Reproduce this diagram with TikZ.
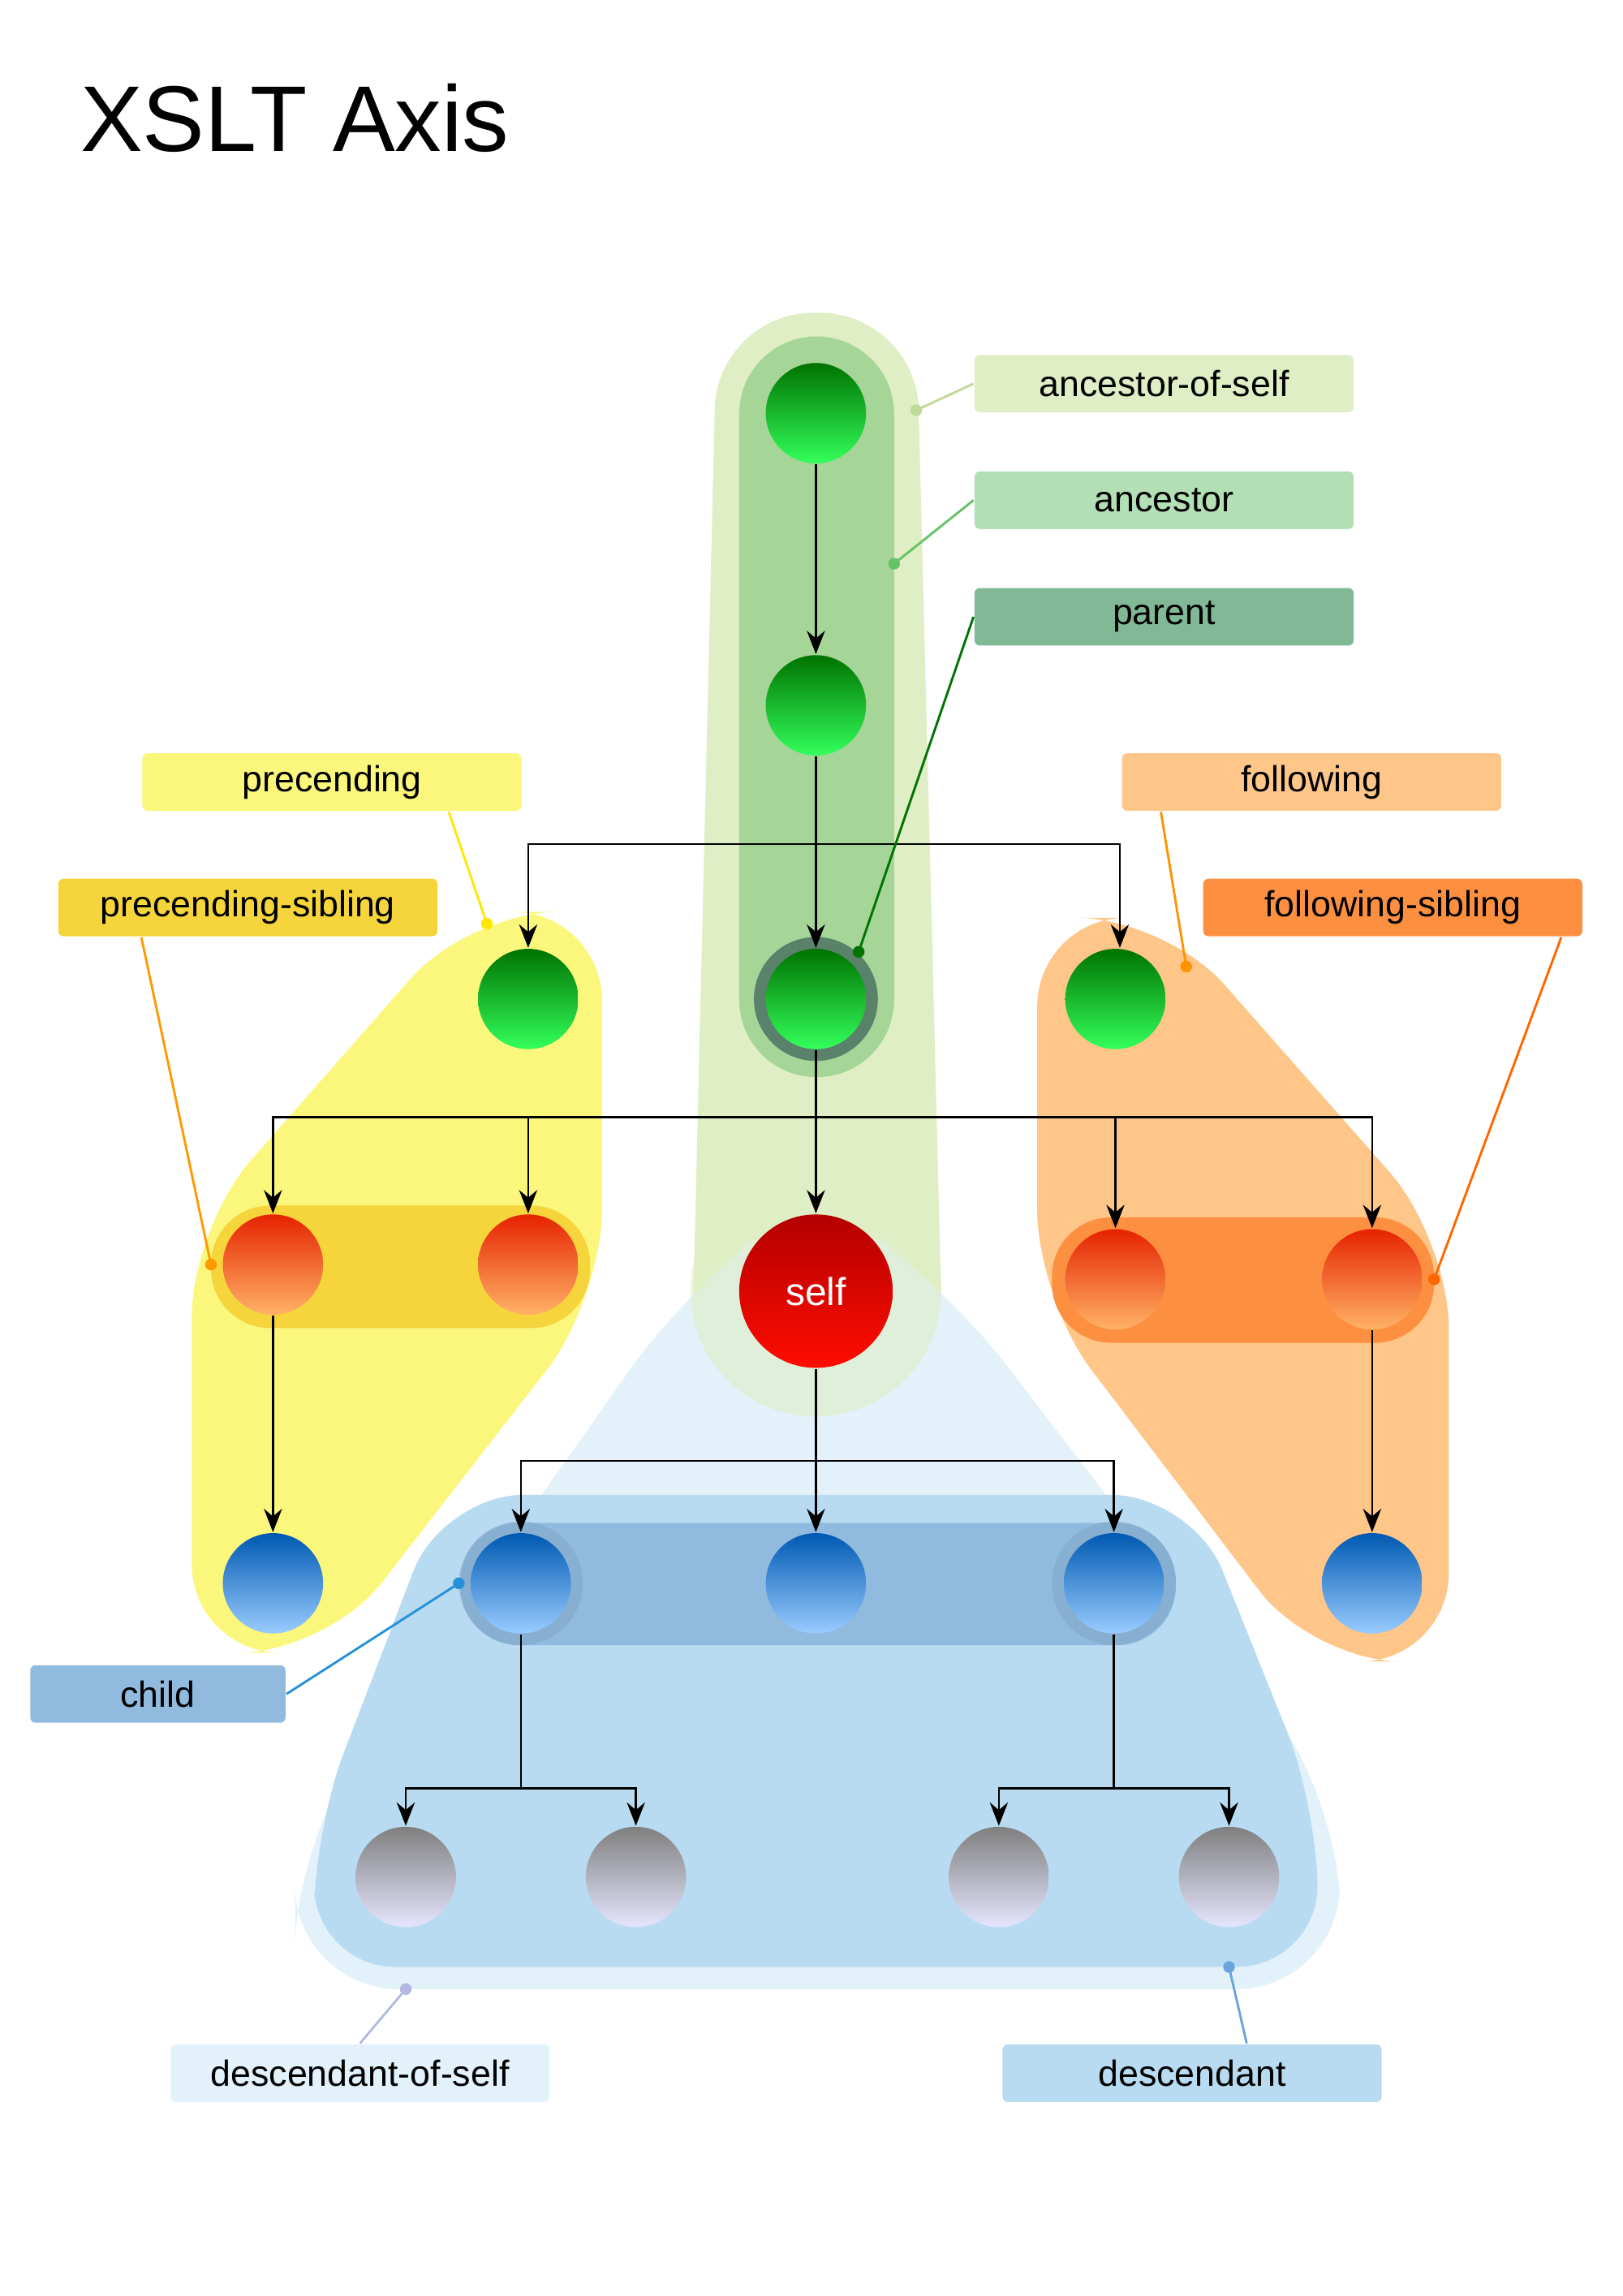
\documentclass[tikz,border=0pt]{standalone}
\usepackage{fontspec}
\setmainfont{Liberation Sans}
\usetikzlibrary{positioning, arrows.meta, calc}

\definecolor{aosc}{HTML}{DFEEC4}
\definecolor{ancc}{HTML}{A5D597}
\definecolor{ancl}{HTML}{B3DFB5}
\definecolor{parc}{HTML}{81B997}
\definecolor{prec}{HTML}{FBF77C}
\definecolor{psib}{HTML}{F5D53B}
\definecolor{folc}{HTML}{FEC688}
\definecolor{fsib}{HTML}{FD9040}
\definecolor{chic}{HTML}{90BBDF}
\definecolor{dosc}{HTML}{E3F1FA}
\definecolor{desc}{HTML}{B8DBF1}

\begin{document}
\begin{tikzpicture}[
    x=0.02cm, y=-0.02cm,
    line width=0.8pt,
    ball/.style={circle, minimum size=1.36cm, inner sep=0pt},
    green/.style={ball, shading=axis, top color=green!45!black, bottom color=green!80!cyan!80!white},
    orng/.style={ball, shading=axis, top color=red!70!orange!90!black, bottom color=orange!60!white},
    blue/.style={ball, shading=axis, top color=blue!50!cyan!70!black, bottom color=cyan!50!blue!40!white},
    gray/.style={ball, shading=axis, top color=black!50, bottom color=blue!10!white},
    tag/.style={rounded corners=2pt, minimum width=5.14cm, minimum height=0.78cm, font=\fontsize{14}{16}\selectfont},
    edge/.style={-{Stealth[length=9pt, width=7pt]}},
    lead/.style={line width=0.9pt},
    dot/.style={circle, fill, inner sep=1.6pt}
]
    \useasboundingbox (0,0) rectangle (1100,1556);

    \node[anchor=west, font=\fontsize{36}{40}\selectfont] (title) at (48,80) {XSLT Axis};

    % regions
    \fill[aosc, rounded corners=13mm] (486,212) -- (621,212) [rounded corners=16mm] -- (640,960) -- (468,960) [rounded corners=13mm] -- cycle;
    \fill[dosc, rounded corners=14mm] (553,808) -- (640,870) -- (908,1220) -- (908,1348) -- (200,1348) -- (200,1250) -- (468,870) -- cycle;
    \fill[desc, rounded corners=11mm] (300,1013) -- (808,1013) -- (893,1225) -- (893,1333) -- (213,1333) -- (213,1240) -- cycle;
    \fill[aosc, opacity=0.6] (553,875) circle[radius=1.7cm];
    \fill[ancc, rounded corners=10.5mm] (501,228) rectangle (606,730);
    \fill[parc!70!black] (553,677) circle[radius=0.84cm];
    \fill[prec, rounded corners=12mm] (318,618) -- (408,618) -- (408,880) -- (222,1120) -- (130,1120) -- (130,832) -- cycle;
    \fill[folc, rounded corners=12mm] (703,622) -- (790,622) -- (982,840) -- (982,1126) -- (890,1126) -- (703,880) -- cycle;
    \fill[psib, rounded corners=8mm] (143,817) rectangle (400,900);
    \fill[fsib, rounded corners=8mm] (713,825) rectangle (972,910);
    \fill[chic, rounded corners=8mm] (312,1032) rectangle (797,1115);
    \fill[chic!85!black, opacity=0.4] (353,1073) circle[radius=0.84cm] (755,1073) circle[radius=0.84cm];

    % nodes
    \node[green] (anc1) at (553,280) {};
    \node[green] (anc2) at (553,478) {};
    \node[green] (parent) at (553,677) {};
    \node[green] (psib0) at (358,677) {};
    \node[green] (fsib0) at (756,677) {};
    \node[orng] (sib1) at (185,857) {};
    \node[orng] (sib2) at (358,857) {};
    \node[ball, minimum size=2.08cm, shading=axis, top color=red!70!black, bottom color=red!90!orange, text=white, font=\fontsize{15}{17}\selectfont] (self) at (553,875) {self};
    \node[orng] (sib3) at (756,867) {};
    \node[orng] (sib4) at (930,867) {};
    \node[blue] (nep1) at (185,1073) {};
    \node[blue] (child1) at (353,1073) {};
    \node[blue] (child2) at (553,1073) {};
    \node[blue] (child3) at (755,1073) {};
    \node[blue] (nep2) at (930,1073) {};
    \node[gray] (gc1) at (275,1272) {};
    \node[gray] (gc2) at (431,1272) {};
    \node[gray] (gc3) at (677,1272) {};
    \node[gray] (gc4) at (833,1272) {};

    % tree edges
    \draw[edge] (anc1) -- (anc2);
    \draw[edge] (anc2) -- (parent);
    \draw[edge] (parent) -- (self);
    \coordinate (jA) at (553,572);
    \draw[edge] (jA) -| (psib0);
    \draw[edge] (jA) -| (fsib0.north -| 759,0);
    \coordinate (jP) at (553,757);
    \draw[edge] (jP) -| (sib1);
    \draw[edge] (jP) -| (sib2);
    \draw[edge] (jP) -| (sib3);
    \draw[edge] (jP) -| (sib4);
    \draw[edge] (sib1) -- (nep1);
    \draw[edge] (sib4) -- (nep2);
    \coordinate (jS) at (553,990);
    \draw[edge] (self) -- (child2);
    \draw[edge] (jS) -| (child1);
    \draw[edge] (jS) -| (child3);
    \coordinate (jC1) at (353,1212);
    \coordinate (jC3) at (755,1212);
    \draw (child1) -- (jC1);
    \draw (child3) -- (jC3);
    \draw[edge] (jC1) -| (gc1);
    \draw[edge] (jC1) -| (gc2);
    \draw[edge] (jC3) -| (gc3);
    \draw[edge] (jC3) -| (gc4);

    % labels
    \node[tag, fill=aosc] (l_aos) at (789,260) {ancestor-of-self};
    \node[tag, fill=ancl] (l_anc) at (789,339) {ancestor};
    \node[tag, fill=parc] (l_par) at (789,418) {parent};
    \node[tag, fill=prec] (l_pre) at (225,530) {precending};
    \node[tag, fill=psib] (l_psib) at (168,615) {precending-sibling};
    \node[tag, fill=folc] (l_fol) at (889,530) {following};
    \node[tag, fill=fsib] (l_fsib) at (944,615) {following-sibling};
    \node[tag, fill=chic, minimum width=3.46cm] (l_chi) at (107,1148) {child};
    \node[tag, fill=dosc] (l_dos) at (244,1405) {descendant-of-self};
    \node[tag, fill=desc] (l_des) at (808,1405) {descendant};

    % leaders
    \coordinate (p_aos) at (621,278);
    \coordinate (p_anc) at (606,382);
    \coordinate (p_par) at (582,645);
    \coordinate (p_pre) at (330,626);
    \coordinate (p_psib) at (143,857);
    \coordinate (p_fol) at (804,655);
    \coordinate (p_fsib) at (972,867);
    \coordinate (p_chi) at (311,1073);
    \coordinate (p_dos) at (275,1348);
    \coordinate (p_des) at (833,1333);
    \draw[lead, green!25!olive!40!white] (l_aos.west) -- (p_aos) node[dot] {};
    \draw[lead, green!60!black!60!white] (l_anc.west) -- (p_anc) node[dot] {};
    \draw[lead, green!45!black] (l_par.west) -- (p_par) node[dot] {};
    \draw[lead, yellow!90!orange] (l_pre.south east) ++(-50,0) -- (p_pre) node[dot] {};
    \draw[lead, orange!80!yellow] (l_psib.south west) ++(57,0) -- (p_psib) node[dot] {};
    \draw[lead, orange!85!yellow] (l_fol.south west) ++(27,0) -- (p_fol) node[dot] {};
    \draw[lead, orange!80!red] (l_fsib.south east) ++(-15,0) -- (p_fsib) node[dot] {};
    \draw[lead, blue!40!cyan!70!gray] (l_chi.east) -- (p_chi) node[dot] {};
    \draw[lead, cyan!30!blue!30!white] (l_dos.north) -- (p_dos) node[dot] {};
    \draw[lead, cyan!60!blue!60!white] (l_des.north) ++(37,0) -- (p_des) node[dot] {};
\end{tikzpicture}
\end{document}
